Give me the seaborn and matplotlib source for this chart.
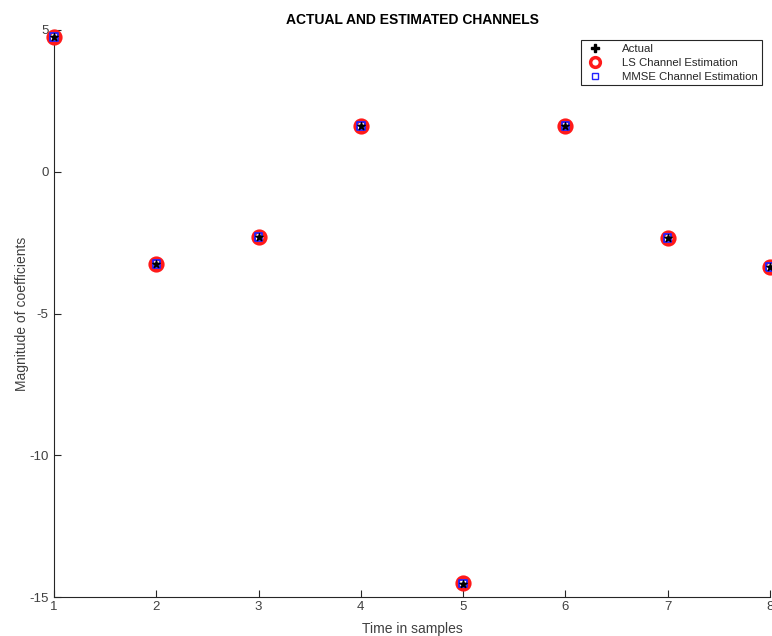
import numpy as np
import pandas as pd
import seaborn as sns
import matplotlib
matplotlib.use("Agg")
import matplotlib.pyplot as plt
from matplotlib.lines import Line2D

samples = [1, 2, 3, 4, 5, 6, 7, 8]
actual = [4.75, -3.25, -2.30, 1.61, -14.55, 1.61, -2.34, -3.36]
ls_est = [4.75, -3.25, -2.30, 1.61, -14.50, 1.61, -2.34, -3.36]
mmse_est = [4.75, -3.25, -2.30, 1.61, -14.52, 1.61, -2.34, -3.36]
xticks = [1, 2, 3, 4, 5, 6, 7, 8]
yticks = [-15, -10, -5, 0, 5]

sns.set_theme(style="white")
plt.rcParams['font.family'] = ['Liberation Sans', 'DejaVu Sans']
plt.rcParams['axes.unicode_minus'] = False
plt.rcParams['xtick.direction'] = 'in'
plt.rcParams['ytick.direction'] = 'in'
txt = '#404040'

fig = plt.figure(figsize=(7.72, 6.36), dpi=100)
ax = fig.add_axes([54/772, 1-597/636, (770-54)/772, (597-30)/636])

df = pd.DataFrame({'x': samples, 'actual': actual, 'ls': ls_est, 'mmse': mmse_est})

sns.scatterplot(data=df, x='x', y='ls', ax=ax, marker='o', s=75, facecolor='white',
                edgecolor='#ff1a1a', linewidth=3, clip_on=False, zorder=3, legend=False)
sns.scatterplot(data=df, x='x', y='mmse', ax=ax, marker='s', s=28, facecolor='none',
                edgecolor='#2222ff', linewidth=1.3, clip_on=False, zorder=4, legend=False)
sns.scatterplot(data=df, x='x', y='actual', ax=ax, marker='*', s=30, color='black',
                edgecolor='black', linewidth=1.0, clip_on=False, zorder=5, legend=False)

ax.set_xlim(1, 8)
ax.set_ylim(-15, 5)
ax.set_xticks(xticks)
ax.set_yticks(yticks)
ax.tick_params(axis='both', direction='in', length=5, width=0.8, color='#262626',
               labelcolor=txt, labelsize=9.5, left=True, bottom=True)
ax.tick_params(axis='y', pad=4)
ax.tick_params(axis='x', pad=3)
for s in ['top', 'right']:
    ax.spines[s].set_visible(False)
for s in ['left', 'bottom']:
    ax.spines[s].set_color('#262626')
    ax.spines[s].set_linewidth(0.8)
ax.set_xlabel('Time in samples', fontsize=10, color=txt, labelpad=6)
ax.set_ylabel('Magnitude of coefficients', fontsize=10, color=txt, labelpad=0)
ax.set_title('ACTUAL AND ESTIMATED CHANNELS', fontsize=10, fontweight='bold', color='black', pad=4)

handles = [
    Line2D([], [], ls='none', marker='P', color='black', markersize=6),
    Line2D([], [], ls='none', marker='o', markerfacecolor='white', markeredgecolor='#ff1a1a',
           markeredgewidth=2.5, markersize=7),
    Line2D([], [], ls='none', marker='s', markerfacecolor='none', markeredgecolor='#2222ff',
           markeredgewidth=1, markersize=5),
]
leg = ax.legend(handles, ['Actual', 'LS Channel Estimation', 'MMSE Channel Estimation'],
                loc='upper right', bbox_to_anchor=(1.0 - 8/716, 1.0 - 10/567), fontsize=8.2,
                frameon=True, fancybox=False, edgecolor='#262626', framealpha=1, borderpad=0.35,
                labelspacing=0.33, handletextpad=1.5, handlelength=1.8, borderaxespad=0.0)
leg.get_frame().set_linewidth(0.8)
for t in leg.get_texts():
    t.set_color('#262626')

fig.savefig('out.png', dpi=100)
